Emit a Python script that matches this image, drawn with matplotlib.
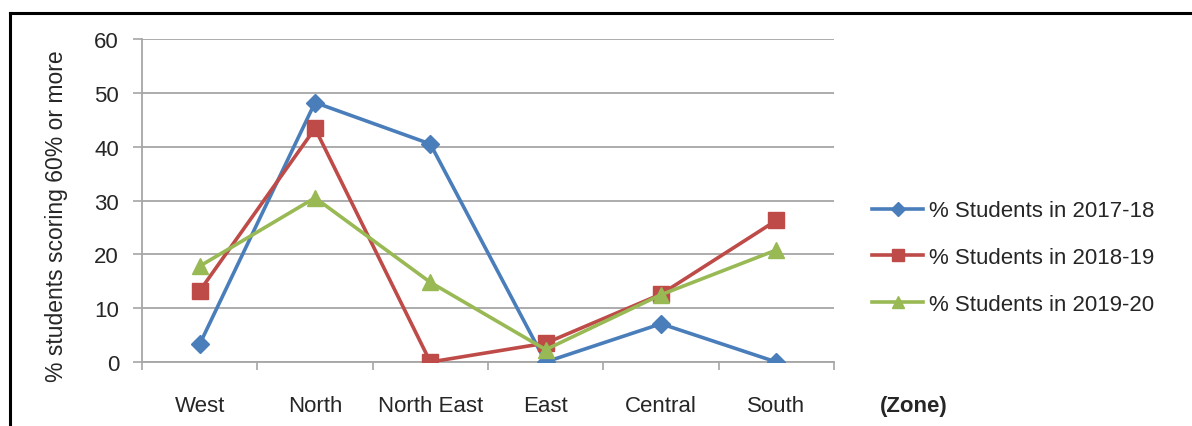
import matplotlib
matplotlib.use("Agg")
import matplotlib.pyplot as plt
from matplotlib.lines import Line2D
import numpy as np

plt.rcParams["font.family"] = ["Liberation Sans", "DejaVu Sans"]

zones = ["West", "North", "North East", "East", "Central", "South"]
pct_2017_18 = [3.3, 48.2, 40.5, 0.0, 7.1, 0.0]
pct_2018_19 = [13.2, 43.4, 0.0, 3.5, 12.6, 26.3]
pct_2019_20 = [17.8, 30.5, 14.8, 2.3, 12.5, 20.8]
series_labels = ["% Students in 2017-18", "% Students in 2018-19", "% Students in 2019-20"]
y_ticks = [0, 10, 20, 30, 40, 50, 60]

BLUE = "#4A7EBB"
RED = "#BE4B48"
GREEN = "#98B954"
GRID = "#a6a6a6"
TEXT = "#262626"

W, H = 1192, 427
fig = plt.figure(figsize=(W / 100, H / 100), dpi=100)
ax = fig.add_axes([142 / W, 64 / H, (834 - 142) / W, (363 - 40) / H])

x = np.arange(len(zones))
ax.plot(x, pct_2017_18, color=BLUE, lw=2.6, marker="D", ms=9.5, label=series_labels[0], zorder=3)
ax.plot(x, pct_2018_19, color=RED, lw=2.6, marker="s", ms=11, label=series_labels[1], zorder=4)
ax.plot(x, pct_2019_20, color=GREEN, lw=2.6, marker="^", ms=11.5, label=series_labels[2], zorder=5)

ax.set_xlim(-0.5, len(zones) - 0.5)
ax.set_ylim(0, 60)
ax.set_yticks(y_ticks)
ax.yaxis.grid(True, color=GRID, lw=1.3)
ax.set_axisbelow(True)

ax.set_xticks(x)
ax.set_xticklabels(zones)
ax.set_xticks(np.arange(-0.5, len(zones)), minor=True)
ax.tick_params(axis="x", which="major", length=0, pad=23.5, labelsize=16, labelcolor=TEXT)
ax.tick_params(axis="x", which="minor", length=6, width=1.2, color=GRID, direction="out")
ax.tick_params(axis="y", length=6.5, width=1.2, color=GRID, pad=10, labelsize=16, labelcolor=TEXT)

for side in ["top", "right"]:
    ax.spines[side].set_visible(False)
for side in ["left", "bottom"]:
    ax.spines[side].set_color(GRID)
    ax.spines[side].set_linewidth(1.3)

fig.text(57 / W, 1 - 216 / H, "% students scoring 60% or more", rotation=90,
         ha="center", va="center", fontsize=16.5, color=TEXT)
fig.text(880 / W, 1 - 407 / H, "(Zone)", ha="left", va="center",
         fontsize=16, fontweight="bold", color=TEXT)

fig.legend(loc="center left", bbox_to_anchor=(872 / W, 1 - 258.5 / H), frameon=False,
           borderpad=0, borderaxespad=0, fontsize=16, handlelength=2.3,
           handletextpad=0.25, labelspacing=1.15, markerscale=0.75, labelcolor=TEXT)

# outer frame: top and left edges only
fig.add_artist(Line2D([10 / W, 1], [1 - 14 / H, 1 - 14 / H], color="black", lw=2.2,
                      transform=fig.transFigure))
fig.add_artist(Line2D([10 / W, 10 / W], [0, 1 - 14 / H], color="black", lw=2.2,
                      transform=fig.transFigure))

fig.savefig("out.png", dpi=100)
